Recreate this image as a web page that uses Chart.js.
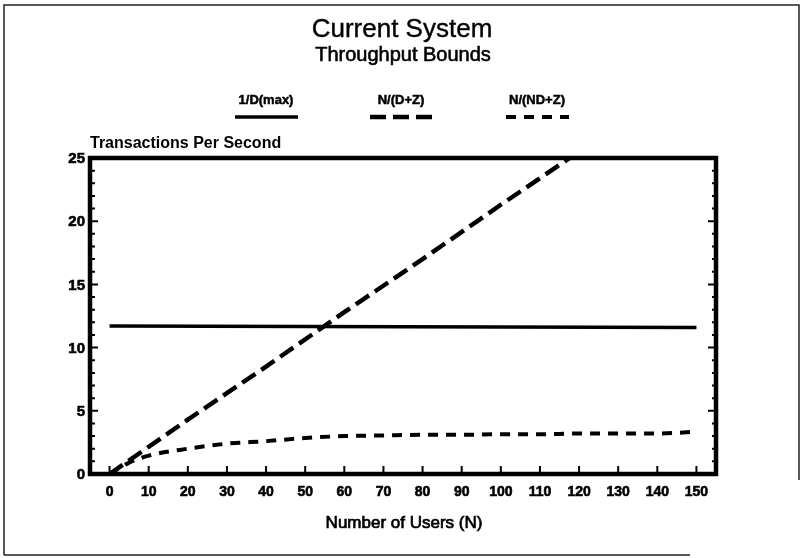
<!DOCTYPE html>
<html>
<head>
<meta charset="utf-8">
<title>Current System – Throughput Bounds</title>
<script src="https://cdn.jsdelivr.net/npm/chart.js@4/dist/chart.umd.min.js"></script>
<style>
  html, body { margin: 0; padding: 0; background: #fff; }
  #wrap { width: 802px; height: 558px; position: relative; }
</style>
</head>
<body>
<div id="wrap"><canvas id="c"></canvas></div>
<script>
// Throughput bounds for the current system
const seriesLabels = ['1/D(max)', 'N/(D+Z)', 'N/(ND+Z)'];

// 1/D(max): bottleneck bound (transactions per second)
const maxUsers = [0, 150];
const maxRate = [11.7, 11.6];

// N/(D+Z): light-load bound
const lightUsers = [0, 20, 40, 60, 80, 100, 120];
const lightRate = [0, 4.3, 8.5, 12.8, 17.0, 21.3, 25.5];

// N/(ND+Z): pessimistic bound
const lowUsers = [0, 5, 10, 20, 30, 40, 50, 60, 70, 80, 90, 100, 110, 120, 130, 140, 150];
const lowRate = [0, 0.9, 1.45, 2.0, 2.4, 2.6, 2.85, 3.0, 3.05, 3.1, 3.1, 3.15, 3.15, 3.2, 3.2, 3.2, 3.35];

// axis ticks
const xTicks = [0, 10, 20, 30, 40, 50, 60, 70, 80, 90, 100, 110, 120, 130, 140, 150];
const yTicks = [0, 5, 10, 15, 20, 25];

const titleText = 'Current System';
const subtitleText = 'Throughput Bounds';
const yAxisTitle = 'Transactions Per Second';
const xAxisTitle = 'Number of Users (N)';

const pts = (xs, ys) => xs.map((x, i) => ({ x: x, y: ys[i] }));

const FONT = '"Liberation Sans", Arial, Helvetica, sans-serif';

// fill text with a thin outline to give it a heavier weight
function heavyText(ctx, text, x, y, weight) {
  ctx.fillText(text, x, y);
  if (weight > 0) {
    ctx.lineWidth = weight;
    ctx.strokeStyle = '#000';
    ctx.strokeText(text, x, y);
  }
}

const decorations = {
  id: 'decorations',
  afterDatasetsDraw(chart) {
    const ctx = chart.ctx;
    const a = chart.chartArea;
    const xs = chart.scales.x;
    const ys = chart.scales.y;
    ctx.save();

    // page border
    ctx.strokeStyle = '#222';
    ctx.lineWidth = 1.5;
    ctx.beginPath();
    ctx.moveTo(4, 555); ctx.lineTo(4, 5); ctx.lineTo(799, 5); ctx.lineTo(799, 480);
    ctx.moveTo(4, 555); ctx.lineTo(690, 555);
    ctx.stroke();

    // plot frame
    ctx.strokeStyle = '#000';
    ctx.lineWidth = 4.5;
    ctx.strokeRect(a.left, a.top, a.right - a.left, a.bottom - a.top);

    // y ticks on both sides (minor each unit, major each 5)
    ctx.lineWidth = 2;
    ctx.beginPath();
    for (let v = ys.min; v <= ys.max; v++) {
      const py = ys.getPixelForValue(v);
      const major = yTicks.includes(v);
      ctx.moveTo(a.left + 2, py); ctx.lineTo(a.left + (major ? 8 : 5), py);
      ctx.moveTo(a.right - 2, py); ctx.lineTo(a.right - (major ? 8 : 4), py);
    }
    // x ticks
    xTicks.forEach(v => {
      const px = xs.getPixelForValue(v);
      ctx.moveTo(px, a.bottom - 2); ctx.lineTo(px, a.bottom - 8);
    });
    ctx.stroke();

    // tick labels
    ctx.fillStyle = '#000';
    ctx.font = 'bold 15px ' + FONT;
    ctx.textAlign = 'right';
    ctx.textBaseline = 'middle';
    yTicks.forEach(v => heavyText(ctx, String(v), a.left - 5, ys.getPixelForValue(v) + 1, 0.6));
    ctx.font = 'bold 14px ' + FONT;
    ctx.textAlign = 'center';
    ctx.textBaseline = 'alphabetic';
    xTicks.forEach(v => heavyText(ctx, String(v), xs.getPixelForValue(v), a.bottom + 22, 0.6));

    // titles
    ctx.font = '26px ' + FONT;
    heavyText(ctx, titleText, 402, 37, 0.4);
    ctx.font = '20px ' + FONT;
    heavyText(ctx, subtitleText, 403, 61, 0.6);

    // axis titles
    ctx.font = 'bold 16px ' + FONT;
    ctx.textAlign = 'left';
    heavyText(ctx, yAxisTitle, 90, 148, 0);
    ctx.font = '17px ' + FONT;
    ctx.textAlign = 'center';
    heavyText(ctx, xAxisTitle, 404, 528, 0.7);

    // legend: label above a line sample
    const centers = [266, 401, 537];
    chart.data.datasets.forEach((ds, i) => {
      const cx = centers[i];
      ctx.font = 'bold 13px ' + FONT;
      ctx.textAlign = 'center';
      ctx.fillStyle = '#000';
      heavyText(ctx, ds.label, cx, 104, 0.5);
      ctx.strokeStyle = ds.borderColor;
      ctx.lineWidth = ds.borderWidth;
      ctx.setLineDash(ds.borderDash || []);
      ctx.beginPath();
      ctx.moveTo(cx - 31, 117);
      ctx.lineTo(cx + 32, 117);
      ctx.stroke();
      ctx.setLineDash([]);
    });

    ctx.restore();
  }
};

new Chart(document.getElementById('c'), {
  type: 'line',
  data: {
    datasets: [
      {
        label: seriesLabels[0],
        data: pts(maxUsers, maxRate),
        borderColor: '#000',
        borderWidth: 3.5,
        pointRadius: 0
      },
      {
        label: seriesLabels[1],
        data: pts(lightUsers, lightRate),
        borderColor: '#000',
        borderWidth: 4.5,
        borderDash: [16, 7],
        pointRadius: 0
      },
      {
        label: seriesLabels[2],
        data: pts(lowUsers, lowRate),
        borderColor: '#000',
        borderWidth: 4,
        borderDash: [10, 8],
        cubicInterpolationMode: 'monotone',
        pointRadius: 0
      }
    ]
  },
  options: {
    responsive: true,
    maintainAspectRatio: false,
    animation: false,
    layout: { padding: { left: 90, right: 86, top: 158, bottom: 84 } },
    plugins: {
      legend: { display: false },
      title: { display: false },
      tooltip: { enabled: false }
    },
    scales: {
      x: { type: 'linear', min: -5, max: 155, display: false },
      y: { type: 'linear', min: 0, max: 25, display: false }
    }
  },
  plugins: [decorations]
});
</script>
</body>
</html>
